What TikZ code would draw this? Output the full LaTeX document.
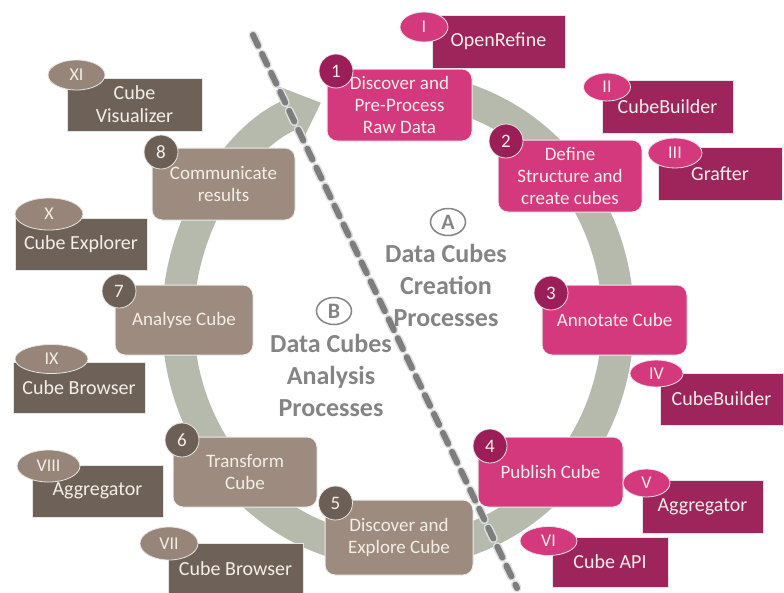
\documentclass[tikz,border=0pt]{standalone}
\usepackage{fontspec}
\setmainfont{Carlito}
\usetikzlibrary{shapes.geometric,arrows.meta}
\definecolor{procpink}{RGB}{213,57,125}
\definecolor{badgepink}{RGB}{156,30,88}
\definecolor{toolpink}{RGB}{158,36,92}
\definecolor{procbrown}{RGB}{156,139,126}
\definecolor{badgebrown}{RGB}{108,96,86}
\definecolor{toolbrown}{RGB}{110,98,88}
\definecolor{ovalbrown}{RGB}{150,133,120}
\definecolor{ringgray}{RGB}{182,186,172}
\definecolor{dashgray}{RGB}{125,125,125}
\definecolor{labelgray}{RGB}{132,132,132}
\definecolor{paletext}{RGB}{244,238,232}
\tikzset{
  process/.style={draw=white!85!gray,line width=1pt,rounded corners=10pt,minimum width=145pt,minimum height=72pt,align=center,text=paletext,font=\fontsize{19}{22}\selectfont,inner sep=2pt},
  pinkproc/.style={process,fill=procpink},
  brownproc/.style={process,fill=procbrown},
  badge/.style={circle,draw=white!80!gray,line width=0.8pt,minimum size=34pt,inner sep=0pt,text=paletext,font=\fontsize{19}{22}\selectfont},
  tool/.style={rectangle,draw=white!80!gray,line width=0.8pt,minimum height=53pt,align=center,text=paletext,font=\fontsize{20}{23}\selectfont,inner sep=2pt},
  oval/.style={ellipse,draw=white!80!gray,line width=0.8pt,inner sep=0pt,text=paletext,font=\fontsize{18}{20}\selectfont},
  groupmark/.style={ellipse,draw=labelgray,line width=1.5pt,minimum width=35pt,minimum height=27pt,inner sep=0pt,text=labelgray,font=\fontsize{22}{24}\selectfont\bfseries},
  grouptext/.style={align=center,text=labelgray,font=\fontsize{26}{32}\selectfont\bfseries}
}
\begin{document}
\begin{tikzpicture}[x=1pt,y=-1pt]
  \useasboundingbox (0,0) rectangle (784,592);
  % cycle ring
  \draw[ringgray,line width=32pt,-{Triangle[width=60pt,length=34pt]}] (398,320) ++(-80:220 and 232)
    arc[start angle=-80,end angle=249.5,x radius=220,y radius=232];
  % divider
  \coordinate (cutA) at (253,35);
  \coordinate (cutB) at (517,588);
  \draw[white!75!gray,line width=9pt,dash pattern=on 12pt off 9pt,line cap=round] (cutA) -- (cutB);
  \draw[dashgray,line width=6pt,dash pattern=on 12pt off 9pt,line cap=round] (cutA) -- (cutB);
  % groups
  \node[groupmark] (markA) at (448,222) {A};
  \node[grouptext] (groupA) at (446,285) {Data Cubes\\Creation\\Processes};
  \node[groupmark] (markB) at (334,311) {B};
  \node[grouptext] (groupB) at (331,375) {Data Cubes\\Analysis\\Processes};
  % processes
  \node[pinkproc] (p1) at (399.5,105) {Discover and\\Pre-Process\\Raw Data};
  \node[pinkproc,minimum width=144pt] (p2) at (570,176) {Define\\Structure and\\create cubes};
  \node[pinkproc,minimum height=70pt] (p3) at (614.5,320) {Annotate Cube};
  \node[pinkproc,minimum height=70pt] (p4) at (550.5,472) {Publish Cube};
  \node[brownproc,minimum width=148pt,minimum height=75pt] (p5) at (399,537.5) {Discover and\\Explore Cube};
  \node[brownproc,minimum width=144pt,minimum height=70pt] (p6) at (245,472) {Transform\\Cube};
  \node[brownproc,minimum width=138pt,minimum height=70pt] (p7) at (184,320) {Analyse Cube};
  \node[brownproc,minimum width=143pt] (p8) at (223.5,184) {Communicate\\results};
  \foreach \i/\pos in {1/{336,71},2/{506,141},3/{551,293},4/{490,446}} {
    \node[badge,fill=badgepink] (n\i) at (\pos) {\i};
  }
  \foreach \i/\pos in {5/{335.5,503},6/{182,440},7/{119,291},8/{161,152}} {
    \node[badge,fill=badgebrown] (n\i) at (\pos) {\i};
  }
  % tools
  \node[tool,fill=toolpink,minimum width=133pt] (t1) at (498.5,41.5) {OpenRefine};
  \node[tool,fill=toolpink,minimum width=131pt] (t2) at (667.5,106.5) {CubeBuilder};
  \node[tool,fill=toolpink,minimum width=124pt] (t3) at (720,173.5) {Grafter};
  \node[tool,fill=toolpink,minimum width=123pt,minimum height=52pt] (t4) at (721.5,399) {CubeBuilder};
  \node[tool,fill=toolpink,minimum width=121pt] (t5) at (702.5,506.5) {Aggregator};
  \node[tool,fill=toolpink,minimum width=116pt,minimum height=50pt] (t6) at (610,562) {Cube API};
  \node[tool,fill=toolbrown,minimum width=135pt,minimum height=51pt] (t7) at (235.5,568.5) {Cube Browser};
  \node[tool,fill=toolbrown,minimum width=131pt,minimum height=52pt] (t8) at (97.5,491) {Aggregator};
  \node[tool,fill=toolbrown,minimum width=132pt,minimum height=51pt] (t9) at (79,387.5) {Cube Browser};
  \node[tool,fill=toolbrown,minimum width=132pt,minimum height=52pt] (t10) at (81,244) {Cube Explorer};
  \node[tool,fill=toolbrown,minimum width=135pt] (t11) at (134.5,104.5) {Cube\\Visualizer};
  \node[oval,fill=procpink,minimum width=48pt,minimum height=30pt] (r1) at (424,27) {I};
  \node[oval,fill=procpink,minimum width=47pt,minimum height=28pt] (r2) at (607,87) {II};
  \node[oval,fill=procpink,minimum width=54pt,minimum height=30pt] (r3) at (675,153) {III};
  \node[oval,fill=procpink,minimum width=53pt,minimum height=27pt] (r4) at (656.5,373.5) {IV};
  \node[oval,fill=procpink,minimum width=47pt,minimum height=28pt] (r5) at (646.5,483) {V};
  \node[oval,fill=procpink,minimum width=57pt,minimum height=29pt] (r6) at (548.5,541) {VI};
  \node[oval,fill=ovalbrown,minimum width=58pt,minimum height=33pt] (r7) at (169,543.5) {VII};
  \node[oval,fill=ovalbrown,minimum width=63pt,minimum height=32pt] (r8) at (48.5,466) {VIII};
  \node[oval,fill=ovalbrown,minimum width=73pt,minimum height=29pt] (r9) at (51.5,359) {IX};
  \node[oval,fill=ovalbrown,minimum width=68pt,minimum height=32pt] (r10) at (49,214) {X};
  \node[oval,fill=ovalbrown,minimum width=57pt,minimum height=30pt] (r11) at (76.5,75) {XI};
\end{tikzpicture}
\end{document}
